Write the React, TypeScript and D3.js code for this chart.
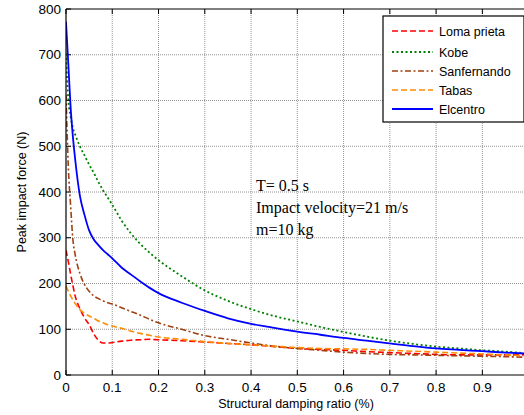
import React from "react";
import * as d3 from "d3";

const damping = [0, 0.005, 0.01, 0.015, 0.02, 0.03, 0.04, 0.05, 0.06, 0.07, 0.08, 0.09, 0.1, 0.12, 0.14, 0.16, 0.18, 0.2, 0.25, 0.3, 0.35, 0.4, 0.45, 0.5, 0.55, 0.6, 0.65, 0.7, 0.75, 0.8, 0.85, 0.9, 0.95, 0.99];

const lomaPrieta = [273, 248, 220, 195, 172, 145, 125, 110, 90, 76, 70, 70, 71, 74, 76, 77, 78, 77, 75, 72, 69, 66, 62, 58, 56, 54, 51, 49, 47, 45, 44, 44, 44, 44];
const kobe = [703, 601, 565, 540, 525, 500, 480, 460, 442, 422, 404, 388, 372, 338, 310, 287, 268, 251, 216, 185, 162, 144, 129, 117, 105, 94, 84, 75, 68, 62, 58, 54, 51, 48];
const sanfernando = [612, 455, 370, 295, 262, 222, 198, 183, 173, 167, 162, 158, 155, 147, 139, 131, 122, 114, 100, 86, 78, 70, 63, 58, 54, 50, 47, 45, 44, 43, 42, 41, 40, 39];
const tabas = [195, 183, 173, 164, 156, 143, 135, 129, 124, 118, 114, 110, 107, 102, 96, 91, 87, 83, 78, 73, 69, 66, 63, 60, 58, 57, 56, 54, 52, 50, 48, 46, 44, 42];
const elcentro = [772, 680, 585, 520, 470, 392, 350, 316, 296, 284, 273, 264, 255, 235, 220, 205, 191, 179, 158, 140, 124, 112, 103, 95, 88, 81, 75, 69, 63, 58, 55, 52, 49, 47];

const seriesNames = ["Loma prieta", "Kobe", "Sanfernando", "Tabas", "Elcentro"];
const xTicks = [0, 0.1, 0.2, 0.3, 0.4, 0.5, 0.6, 0.7, 0.8, 0.9];
const yTicks = [0, 100, 200, 300, 400, 500, 600, 700, 800];
const annotation = ["T= 0.5 s", "Impact velocity=21 m/s", "m=10 kg"];

const styles = [
  { color: "#ff0000", dash: "6,3", width: 1.6 },
  { color: "#008000", dash: "2,2.5", width: 1.8 },
  { color: "#a0400f", dash: "6,2.5,2,2.5", width: 1.6 },
  { color: "#ff8c00", dash: "6,3", width: 1.6 },
  { color: "#0000ff", dash: "", width: 1.8 },
];

export default function App() {
  const W = 524, H = 415;
  const left = 66, right = 524, top = 9, bottom = 375;
  const x = d3.scaleLinear().domain([0, 0.99]).range([left, right]);
  const y = d3.scaleLinear().domain([0, 800]).range([bottom, top]);
  const allSeries = [lomaPrieta, kobe, sanfernando, tabas, elcentro];
  const line = d3.line<number>().x((_, i) => x(damping[i])).y((d) => y(d)).curve(d3.curveMonotoneX);
  const font = "Arial, 'Liberation Sans', sans-serif";

  const legX = 383, legY = 16, legW = 141, legH = 106;
  const legRows = [31, 52, 71, 90, 109];

  return (
    <svg width={W} height={H} style={{ position: "absolute", left: 0, top: 0, background: "#fff" }}>
      <defs>
        <clipPath id="plot">
          <rect x={left} y={top} width={right - left} height={bottom - top} />
        </clipPath>
      </defs>
      <rect x={0} y={0} width={W} height={H} fill="#fff" />
      {xTicks.slice(1).map((t) => (
        <line key={"gx" + t} x1={x(t)} x2={x(t)} y1={top} y2={bottom} stroke="#7a7a7a" strokeWidth={0.8} strokeDasharray="1,1" />
      ))}
      {yTicks.slice(1, -1).map((t) => (
        <line key={"gy" + t} x1={left} x2={right} y1={y(t)} y2={y(t)} stroke="#7a7a7a" strokeWidth={0.8} strokeDasharray="1,1" />
      ))}
      {xTicks.map((t) => (
        <g key={"tx" + t}>
          <line x1={x(t)} x2={x(t)} y1={bottom} y2={bottom - 5} stroke="#000" />
          <line x1={x(t)} x2={x(t)} y1={top} y2={top + 5} stroke="#000" />
          <text x={x(t)} y={bottom + 17} fontFamily={font} fontSize={13.5} textAnchor="middle">{t === 0 ? "0" : String(t)}</text>
        </g>
      ))}
      {yTicks.map((t) => (
        <g key={"ty" + t}>
          <line x1={left} x2={left + 5} y1={y(t)} y2={y(t)} stroke="#000" />
          <text x={left - 5} y={y(t) + 4.5} fontFamily={font} fontSize={13.5} textAnchor="end">{t}</text>
        </g>
      ))}
      <g clipPath="url(#plot)">
        {allSeries.map((s, i) => (
          <path key={seriesNames[i]} d={line(s) || ""} fill="none" stroke={styles[i].color} strokeWidth={styles[i].width} strokeDasharray={styles[i].dash} />
        ))}
      </g>
      <line x1={left} x2={right} y1={top} y2={top} stroke="#000" strokeWidth={1.2} />
      <line x1={left} x2={right} y1={bottom} y2={bottom} stroke="#000" strokeWidth={1.2} />
      <line x1={left} x2={left} y1={top} y2={bottom} stroke="#000" strokeWidth={1.2} />
      {annotation.map((a, i) => (
        <text key={a} x={256} y={191 + i * 22} fontFamily="'Liberation Serif', 'DejaVu Serif', serif" fontSize={16}>{a}</text>
      ))}
      <rect x={legX} y={legY} width={legW} height={legH} fill="#fff" stroke="#000" strokeWidth={1.2} />
      {seriesNames.map((n, i) => (
        <g key={"leg" + n}>
          <line x1={392} x2={433} y1={legRows[i]} y2={legRows[i]} stroke={styles[i].color} strokeWidth={styles[i].width} strokeDasharray={styles[i].dash} />
          <text x={439} y={legRows[i] + 4.5} fontFamily={font} fontSize={12.5}>{n}</text>
        </g>
      ))}
      <text x={296} y={408} fontFamily={font} fontSize={12.5} textAnchor="middle">Structural damping ratio (%)</text>
      <text transform={`translate(26,192) rotate(-90)`} fontFamily={font} fontSize={12.5} textAnchor="middle">Peak impact force (N)</text>
    </svg>
  );
}
